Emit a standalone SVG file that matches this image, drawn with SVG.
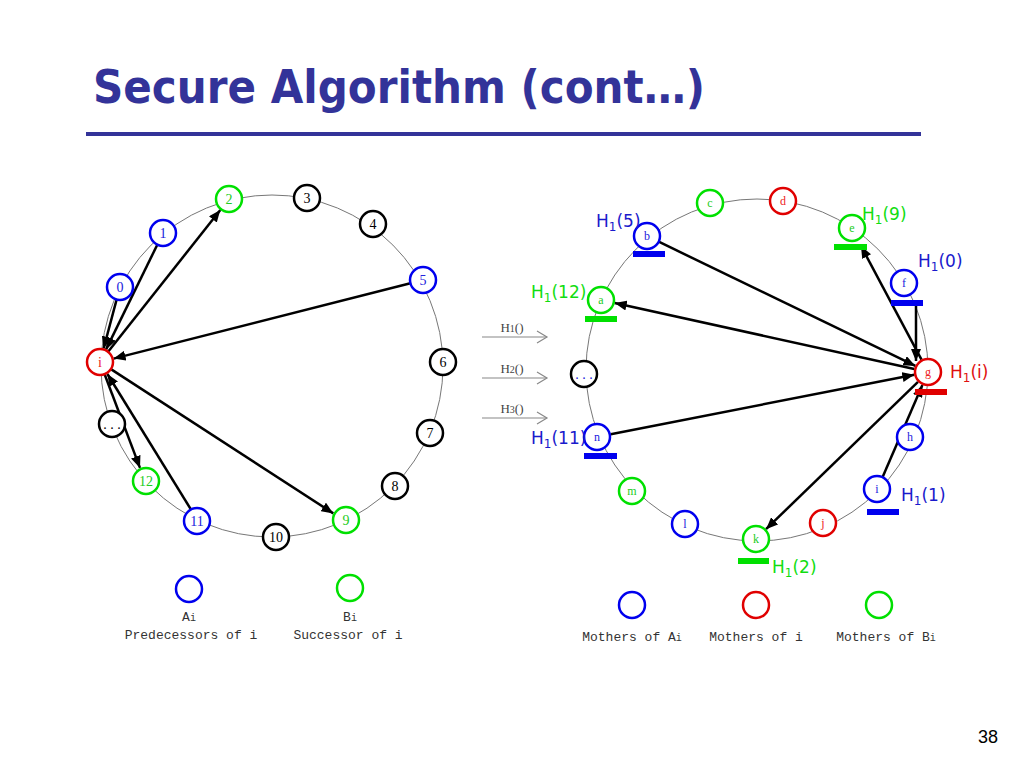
<svg xmlns="http://www.w3.org/2000/svg" width="1024" height="768" viewBox="0 0 1024 768">
<defs>
<marker id="ah" viewBox="0 0 12 10" refX="12" refY="5" markerWidth="12" markerHeight="10" markerUnits="userSpaceOnUse" orient="auto-start-reverse">
<path d="M0,0 L12,5 L0,10 Z" fill="#000"/>
</marker>
</defs>
<style>
.ring{fill:none;stroke:#777;stroke-width:1}
.nd{fill:#fff;stroke-width:2.5}
.bk{stroke:#000}.bl{stroke:#0000ee}.gr{stroke:#00e000}.rd{stroke:#e00000}
.lb{font-family:"Liberation Serif",serif;font-size:14px;text-anchor:middle;dominant-baseline:central}
.lbs{font-family:"Liberation Serif",serif;font-size:12px;text-anchor:middle;dominant-baseline:central}
.tb{fill:#000}.tbl{fill:#2222dd}.tgr{fill:#22cc22}.trd{fill:#ee2222}
.cn{stroke:#000;stroke-width:2.5;fill:none}
.h{font-family:"DejaVu Sans",Verdana,sans-serif;font-size:17px}
.hb{fill:#1a1acc}.hg{fill:#11dd11}.hr{fill:#e01010}
.bar{stroke:none}
.fn{font-family:"Liberation Serif",serif;font-size:13px;fill:#444}
.leg{font-family:"Liberation Mono",monospace;font-size:13px;fill:#333;text-anchor:middle}
.mid{stroke:#888;stroke-width:1.2;fill:none}
</style>
<rect width="1024" height="768" fill="#fff"/>
<text x="93" y="103" font-family="DejaVu Sans,Verdana,sans-serif" font-weight="bold" font-size="46" fill="#333399" textLength="612" lengthAdjust="spacingAndGlyphs">Secure Algorithm (cont…)</text>
<line x1="86" y1="134" x2="921" y2="134" stroke="#333399" stroke-width="4"/>
<text x="998" y="743" font-family="Liberation Sans,Arial,sans-serif" font-size="18" text-anchor="end" fill="#000">38</text>

<circle class="ring" cx="272" cy="366" r="171"/>
<circle class="ring" cx="757" cy="370" r="171"/>

<g id="connectors">
<line class="cn" x1="116.6" y1="299.6" x2="103.6" y2="348.5" marker-end="url(#ah)"/>
<line class="cn" x1="157.3" y1="244.7" x2="106.1" y2="349.4" marker-end="url(#ah)"/>
<line class="cn" x1="108.1" y1="351.8" x2="220.3" y2="210" marker-end="url(#ah)"/>
<line class="cn" x1="410.4" y1="283.2" x2="113.6" y2="358.6" marker-end="url(#ah)"/>
<line class="cn" x1="104.6" y1="374.2" x2="140" y2="467.9" marker-end="url(#ah)"/>
<line class="cn" x1="191.2" y1="509.9" x2="107.4" y2="374" marker-end="url(#ah)"/>
<line class="cn" x1="110.9" y1="369.1" x2="333.3" y2="513.4" marker-end="url(#ah)"/>

<line class="cn" x1="658.7" y1="241.7" x2="915.4" y2="365.9" marker-end="url(#ah)"/>
<line class="cn" x1="914.3" y1="369" x2="614.7" y2="303" marker-end="url(#ah)"/>
<line class="cn" x1="921.5" y1="359.6" x2="861" y2="246" marker-end="url(#ah)"/>
<line class="cn" x1="916" y1="303" x2="916" y2="361" marker-end="url(#ah)"/>
<line class="cn" x1="610.7" y1="434.3" x2="914.3" y2="374.7" marker-end="url(#ah)"/>
<line class="cn" x1="882.2" y1="478" x2="922.4" y2="384.9" marker-end="url(#ah)"/>
<line class="cn" x1="918" y1="381.8" x2="766" y2="529.2" marker-end="url(#ah)"/>

<line class="mid" x1="482" y1="337" x2="547" y2="337"/><path class="mid" d="M537,331 L547,337 L537,343"/>
<line class="mid" x1="482" y1="378" x2="547" y2="378"/><path class="mid" d="M537,372 L547,378 L537,384"/>
<line class="mid" x1="482" y1="418" x2="547" y2="418"/><path class="mid" d="M537,412 L547,418 L537,424"/>
</g>
<text class="fn" x="512" y="332" text-anchor="middle">H<tspan font-size="10">1</tspan>()</text>
<text class="fn" x="512" y="373" text-anchor="middle">H<tspan font-size="10">2</tspan>()</text>
<text class="fn" x="512" y="413" text-anchor="middle">H<tspan font-size="10">3</tspan>()</text>

<!-- left ring nodes -->
<g id="n-i"><circle class="nd rd" cx="100" cy="362" r="13"/><text class="lb trd" x="100" y="362">i</text></g>
<g id="n-0"><circle class="nd bl" cx="120" cy="287" r="13"/><text class="lb tbl" x="120" y="287">0</text></g>
<g id="n-1"><circle class="nd bl" cx="163" cy="233" r="13"/><text class="lb tbl" x="163" y="233">1</text></g>
<g id="n-2"><circle class="nd gr" cx="229" cy="199" r="13"/><text class="lb tgr" x="229" y="199">2</text></g>
<g id="n-3"><circle class="nd bk" cx="307" cy="198" r="13"/><text class="lb tb" x="307" y="198">3</text></g>
<g id="n-4"><circle class="nd bk" cx="373" cy="224" r="13"/><text class="lb tb" x="373" y="224">4</text></g>
<g id="n-5"><circle class="nd bl" cx="423" cy="280" r="13"/><text class="lb tbl" x="423" y="280">5</text></g>
<g id="n-6"><circle class="nd bk" cx="443" cy="362" r="13"/><text class="lb tb" x="443" y="362">6</text></g>
<g id="n-7"><circle class="nd bk" cx="430" cy="433" r="13"/><text class="lb tb" x="430" y="433">7</text></g>
<g id="n-8"><circle class="nd bk" cx="395" cy="486" r="13"/><text class="lb tb" x="395" y="486">8</text></g>
<g id="n-9"><circle class="nd gr" cx="346" cy="520" r="13"/><text class="lb tgr" x="346" y="520">9</text></g>
<g id="n-10"><circle class="nd bk" cx="276" cy="537" r="13"/><text class="lb tb" x="276" y="537">10</text></g>
<g id="n-11"><circle class="nd bl" cx="197" cy="521" r="13"/><text class="lb tbl" x="197" y="521">11</text></g>
<g id="n-12"><circle class="nd gr" cx="146" cy="481" r="13"/><text class="lb tgr" x="146" y="481">12</text></g>
<g id="n-dots-l"><circle class="nd bk" cx="112" cy="424" r="13"/><text class="lb tb" x="112" y="424">. . .</text></g>

<!-- right ring nodes -->
<g id="n-a"><circle class="nd gr" cx="601" cy="300" r="13"/><text class="lbs tgr" x="601" y="300">a</text></g>
<g id="n-b"><circle class="nd bl" cx="647" cy="236" r="13"/><text class="lbs tbl" x="647" y="236">b</text></g>
<g id="n-c"><circle class="nd gr" cx="710" cy="203" r="13"/><text class="lbs tgr" x="710" y="203">c</text></g>
<g id="n-d"><circle class="nd rd" cx="783" cy="201" r="13"/><text class="lbs trd" x="783" y="201">d</text></g>
<g id="n-e"><circle class="nd gr" cx="852" cy="228" r="13"/><text class="lbs tgr" x="852" y="228">e</text></g>
<g id="n-f"><circle class="nd bl" cx="904" cy="283" r="13"/><text class="lbs tbl" x="904" y="283">f</text></g>
<g id="n-g"><circle class="nd rd" cx="928" cy="372" r="13"/><text class="lbs trd" x="928" y="372">g</text></g>
<g id="n-h"><circle class="nd bl" cx="910" cy="437" r="13"/><text class="lbs tbl" x="910" y="437">h</text></g>
<g id="n-ir"><circle class="nd bl" cx="877" cy="489" r="13"/><text class="lbs tbl" x="877" y="489">i</text></g>
<g id="n-j"><circle class="nd rd" cx="823" cy="523" r="13"/><text class="lbs trd" x="823" y="523">j</text></g>
<g id="n-k"><circle class="nd gr" cx="756" cy="539" r="13"/><text class="lbs tgr" x="756" y="539">k</text></g>
<g id="n-l"><circle class="nd bl" cx="685" cy="524" r="13"/><text class="lbs tbl" x="685" y="524">l</text></g>
<g id="n-m"><circle class="nd gr" cx="632" cy="491" r="13"/><text class="lbs tgr" x="632" y="491">m</text></g>
<g id="n-n"><circle class="nd bl" cx="597" cy="437" r="13"/><text class="lbs tbl" x="597" y="437">n</text></g>
<g id="n-dots-r"><circle class="nd bk" cx="584" cy="374" r="13"/><text class="lb tbl" x="584" y="374">. . .</text></g>

<!-- bars -->
<g id="bars">
<rect class="bar" x="633" y="251" width="32" height="6" fill="#0000ee"/>
<rect class="bar" x="585" y="316" width="32" height="6" fill="#00e000"/>
<rect class="bar" x="834" y="244" width="33" height="6" fill="#00e000"/>
<rect class="bar" x="891" y="300" width="32" height="6" fill="#0000ee"/>
<rect class="bar" x="915" y="389" width="32" height="6" fill="#e00000"/>
<rect class="bar" x="584" y="453" width="33" height="6" fill="#0000ee"/>
<rect class="bar" x="867" y="509" width="32" height="6" fill="#0000ee"/>
<rect class="bar" x="738" y="558" width="31" height="6" fill="#00e000"/>
</g>

<!-- H labels -->
<text class="h hb" x="596" y="227">H<tspan font-size="12" dy="4">1</tspan><tspan dy="-4">(5)</tspan></text>
<text class="h hg" x="531" y="298">H<tspan font-size="12" dy="4">1</tspan><tspan dy="-4">(12)</tspan></text>
<text class="h hg" x="862" y="220">H<tspan font-size="12" dy="4">1</tspan><tspan dy="-4">(9)</tspan></text>
<text class="h hb" x="918" y="267">H<tspan font-size="12" dy="4">1</tspan><tspan dy="-4">(0)</tspan></text>
<text class="h hr" x="950" y="378">H<tspan font-size="12" dy="4">1</tspan><tspan dy="-4">(i)</tspan></text>
<text class="h hb" x="531" y="444">H<tspan font-size="12" dy="4">1</tspan><tspan dy="-4">(11)</tspan></text>
<text class="h hb" x="901" y="501">H<tspan font-size="12" dy="4">1</tspan><tspan dy="-4">(1)</tspan></text>
<text class="h hg" x="772" y="573">H<tspan font-size="12" dy="4">1</tspan><tspan dy="-4">(2)</tspan></text>

<!-- legends -->
<g id="legend-left">
<circle class="nd bl" cx="189" cy="589" r="13"/>
<circle class="nd gr" cx="350" cy="588" r="13"/>
<text class="leg" x="189" y="621">A<tspan font-size="10">i</tspan></text>
<text class="leg" x="350" y="621">B<tspan font-size="10">i</tspan></text>
<text class="leg" x="191" y="639">Predecessors of i</text>
<text class="leg" x="348" y="639">Successor of i</text>
</g>
<g id="legend-right">
<circle class="nd bl" cx="632" cy="605" r="13"/>
<circle class="nd rd" cx="756" cy="605" r="13"/>
<circle class="nd gr" cx="879" cy="605" r="13"/>
<text class="leg" x="632" y="641">Mothers of A<tspan font-size="10">i</tspan></text>
<text class="leg" x="756" y="641">Mothers of i</text>
<text class="leg" x="886" y="641">Mothers of B<tspan font-size="10">i</tspan></text>
</g>
</svg>
